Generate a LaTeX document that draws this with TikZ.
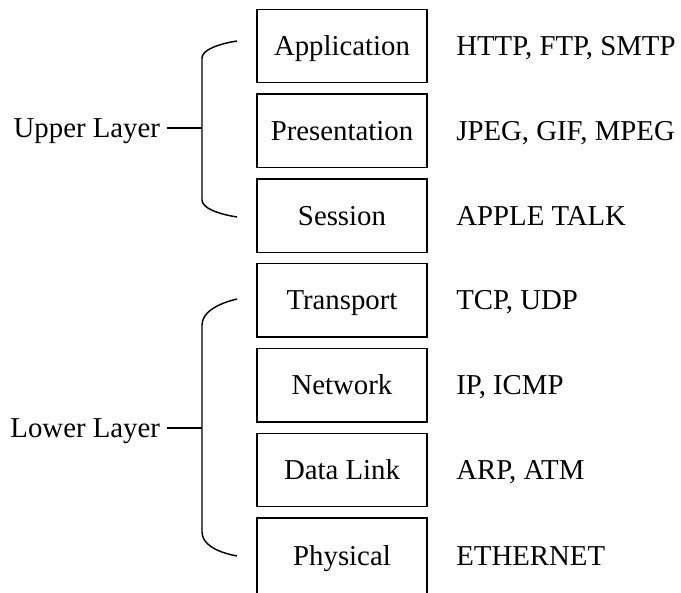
\documentclass[tikz,border=0pt]{standalone}
\usepackage{fontspec}
\setmainfont{Liberation Serif}
\usetikzlibrary{positioning}

\begin{document}
\begin{tikzpicture}[x=0.75pt,y=-0.75pt,line width=1.1pt,
  txt/.style={font=\fontsize{21.6}{25}\selectfont,text height=14.2pt,text depth=0pt},
  layer/.style={txt,draw,minimum width=127.5pt,minimum height=55pt,inner sep=0pt,outer sep=0pt},
  proto/.style={txt,inner sep=0pt,outer sep=0pt}]
 \clip (0,0) rectangle (681,592);
 % OSI layers
 \node [layer] (app) at (342,46) {Application};
 \node [layer,below=8.6pt of app] (pres) {Presentation};
 \node [layer,below=8.6pt of pres] (sess) {Session};
 \node [layer,below=8.6pt of sess] (trans) {Transport};
 \node [layer,below=8.6pt of trans] (net) {Network};
 \node [layer,below=8.6pt of net] (link) {Data Link};
 \node [layer,minimum height=57pt,below=8.6pt of link] (phys) {Physical};
 % protocols
 \node [proto,right=22pt of app] (app p) {HTTP, FTP, SMTP};
 \node [proto,right=22pt of pres] (pres p) {JPEG, GIF, MPEG};
 \node [proto,right=22pt of sess] (sess p) {APPLE TALK};
 \node [proto,right=22pt of trans] (trans p) {TCP, UDP};
 \node [proto,right=22pt of net] (net p) {IP, ICMP};
 \node [proto,right=22pt of link] (link p) {ARP, ATM};
 \node [proto,right=22pt of phys] (phys p) {ETHERNET};
 % groups
 \node [proto,anchor=east] (upper) at (160,128) {Upper Layer};
 \node [proto,anchor=east] (lower) at (160,428) {Lower Layer};
 \coordinate (u top) at (237,41);
 \coordinate (u bot) at (237,217);
 \coordinate (u mid) at (202,128);
 \coordinate (l top) at (237,299);
 \coordinate (l bot) at (237,556);
 \coordinate (l mid) at (202,428);
 \draw (u top) .. controls (218,44) and (202,50) .. (202,58) -- (202,200)
   .. controls (202,208) and (218,214) .. (u bot);
 \draw (l top) .. controls (216,304) and (202,313) .. (202,325) -- (202,532)
   .. controls (202,544) and (216,552) .. (l bot);
 \draw ([xshift=5.2pt]upper.east) -- (u mid);
 \draw ([xshift=5.2pt]lower.east) -- (l mid);
\end{tikzpicture}
\end{document}
